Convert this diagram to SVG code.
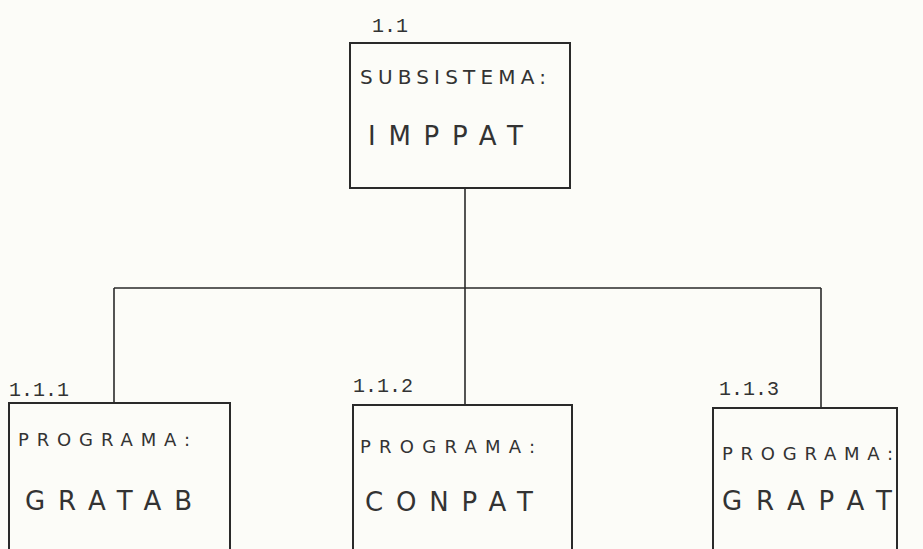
<svg xmlns="http://www.w3.org/2000/svg" width="923" height="549" viewBox="0 0 923 549">
<style>
.box{fill:none;stroke:#2a2a2a;stroke-width:2}
.conn{fill:none;stroke:#2a2a2a;stroke-width:1.6}
.num{font-family:"Liberation Mono",monospace;font-size:20px;fill:#333}
.lbl{font-family:"DejaVu Sans","Liberation Sans",sans-serif;font-size:18px;fill:#333}
.lbl2{font-family:"DejaVu Sans","Liberation Sans",sans-serif;font-size:20px;fill:#333}
.name{font-family:"DejaVu Sans","Liberation Sans",sans-serif;font-size:26px;fill:#333}
</style>
<rect width="923" height="549" fill="#fcfcf8"/>
<g id="connectors">
<line class="conn" x1="465" y1="188" x2="465" y2="405"/>
<line class="conn" x1="114" y1="288" x2="821" y2="288"/>
<line class="conn" x1="114" y1="288" x2="114" y2="403"/>
<line class="conn" x1="821" y1="288" x2="821" y2="408"/>
</g>
<g id="n1_1">
<text class="num" x="372" y="32">1.1</text>
<rect class="box" x="350" y="43" width="220" height="145"/>
<text class="lbl2" x="360" y="84" textLength="186" lengthAdjust="spacing">SUBSISTEMA:</text>
<text class="name" x="368" y="145" textLength="155" lengthAdjust="spacing">IMPPAT</text>
</g>
<g id="n1_1_1">
<text class="num" x="9" y="396">1.1.1</text>
<rect class="box" x="9" y="403" width="221" height="160"/>
<text class="lbl" x="18" y="446" textLength="172" lengthAdjust="spacing">PROGRAMA:</text>
<text class="name" x="25" y="510" textLength="167" lengthAdjust="spacing">GRATAB</text>
</g>
<g id="n1_1_2">
<text class="num" x="353" y="392">1.1.2</text>
<rect class="box" x="353" y="405" width="219" height="160"/>
<text class="lbl" x="360" y="453" textLength="175" lengthAdjust="spacing">PROGRAMA:</text>
<text class="name" x="365" y="511" textLength="168" lengthAdjust="spacing">CONPAT</text>
</g>
<g id="n1_1_3">
<text class="num" x="719" y="395">1.1.3</text>
<rect class="box" x="713" y="408" width="184" height="160"/>
<text class="lbl" x="722" y="460" textLength="171" lengthAdjust="spacing">PROGRAMA:</text>
<text class="name" x="722" y="510" textLength="170" lengthAdjust="spacing">GRAPAT</text>
</g>
</svg>
